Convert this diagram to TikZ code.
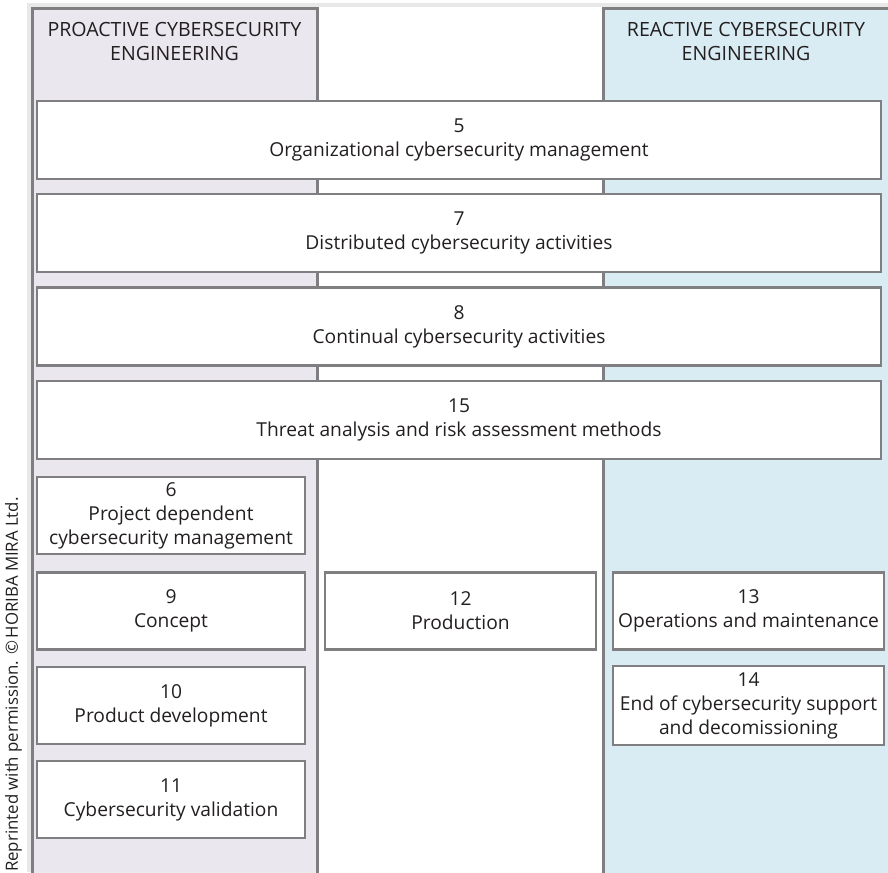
\documentclass[tikz,border=0pt]{standalone}
\usepackage{fontspec}
\setmainfont{Open Sans}
\definecolor{bordergray}{HTML}{7F7F82}
\definecolor{lav}{HTML}{EAE7EE}
\definecolor{ltblue}{HTML}{DAECF3}
\definecolor{txt}{HTML}{231F20}
\definecolor{shadow}{HTML}{E8E8E8}
\begin{document}
\begin{tikzpicture}[x=1pt,y=-1pt,
  panel/.style={draw=bordergray, line width=2.6pt, inner sep=0pt},
  box/.style={draw=bordergray, line width=2.6pt, fill=white, inner sep=0pt,
    align=center, text=txt, font=\fontsize{19.2}{24}\selectfont},
  wide/.style={box, minimum width=844pt, minimum height=78pt},
  small/.style={box, minimum width=269pt, minimum height=77pt},
  head/.style={align=center, text=txt, inner sep=0pt,
    font=\fontsize{19.6}{23.3}\selectfont}]
\useasboundingbox (0,0) rectangle (888,872);
% background and shadow
\fill[shadow] (27,3) rectangle (888,872);
\fill[white] (31,7) rectangle (888,872);
% panels
\node[panel, fill=lav, minimum width=285pt, minimum height=880pt, anchor=north west] (pro) at (31,7) {};
\node[panel, fill=ltblue, minimum width=300pt, minimum height=880pt, anchor=north west] (rea) at (602,7) {};
\node[head] (proh) at (174.5,41.5) {PROACTIVE CYBERSECURITY\\ENGINEERING};
\node[head] (reah) at (746,41.5) {REACTIVE CYBERSECURITY\\ENGINEERING};
% wide boxes
\node[wide] (b5) at (459,140) {5\\Organizational cybersecurity management};
\node[wide] (b7) at (459,233) {7\\Distributed cybersecurity activities};
\node[wide] (b8) at (459,326.5) {8\\Continual cybersecurity activities};
\node[wide] (b15) at (459,420) {15\\Threat analysis and risk assessment methods};
% left column
\node[small, minimum width=268pt] (b6) at (171,515.5) {6\\Project dependent\\cybersecurity management};
\node[small, minimum width=268pt] (b9) at (171,611) {9\\Concept};
\node[small, minimum width=268pt] (b10) at (171,705.5) {10\\Product development};
\node[small, minimum width=268pt] (b11) at (171,799.5) {11\\Cybersecurity validation};
% middle
\node[small, minimum width=271pt] (b12) at (460.5,611) {12\\Production};
% right
\node[small, minimum width=271pt] (b13) at (748.5,611) {13\\Operations and maintenance};
\node[small, minimum width=271pt, minimum height=79pt] (b14) at (748.5,705.5) {14\\End of cybersecurity support\\and decomissioning};
% credit
\node[rotate=90, anchor=west, inner sep=0pt, text=txt, font=\fontsize{16.8}{18}\selectfont] (credit) at (13.5,872) {Reprinted with permission. \textcopyright\,HORIBA MIRA Ltd.};
\end{tikzpicture}
\end{document}
